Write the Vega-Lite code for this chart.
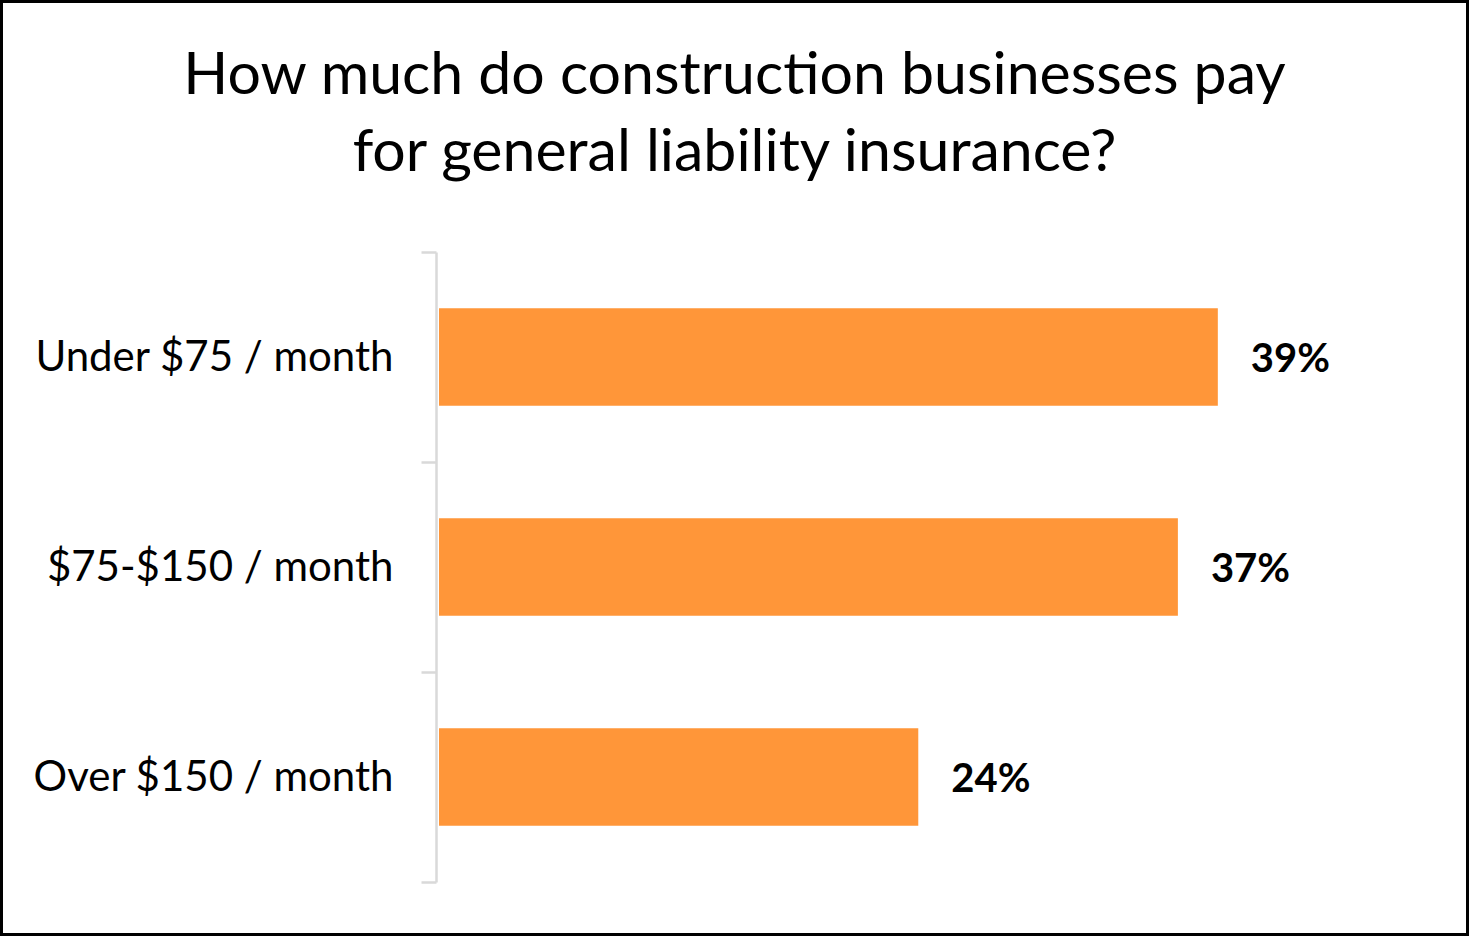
{
  "$schema": "https://vega.github.io/schema/vega-lite/v6.json",
  "width": 1469,
  "height": 936,
  "autosize": "none",
  "padding": 0,
  "background": "white",
  "config": {
    "view": {"stroke": "#000000", "strokeWidth": 6},
    "font": "Lato"
  },
  "title": {
    "text": ["How much do construction businesses pay", "for general liability insurance?"],
    "font": "Lato",
    "fontSize": 59,
    "fontWeight": "normal",
    "color": "#000000",
    "anchor": "middle",
    "baseline": "bottom",
    "lineHeight": 77,
    "offset": -263
  },
  "data": {
    "values": [
      {"category": "Under $75 / month", "share": 0.39},
      {"category": "$75-$150 / month", "share": 0.37},
      {"category": "Over $150 / month", "share": 0.24}
    ]
  },
  "encoding": {
    "y": {
      "field": "category",
      "type": "nominal",
      "sort": null,
      "scale": {"range": [252, 882], "paddingInner": 0, "paddingOuter": 0},
      "axis": {
        "title": null,
        "offset": -436,
        "tickBand": "extent",
        "tickSize": 15,
        "tickWidth": 2.5,
        "tickColor": "#D9D9D9",
        "domainColor": "#D9D9D9",
        "domainWidth": 2.5,
        "labelPadding": 28,
        "labelFont": "Lato",
        "labelFontSize": 42,
        "labelColor": "#000000",
        "labelLimit": 500
      }
    },
    "x": {
      "field": "share",
      "type": "quantitative",
      "scale": {"domain": [0, 0.5], "range": [439, 1437.5]},
      "axis": null
    }
  },
  "layer": [
    {"mark": {"type": "bar", "color": "#FF9639", "height": {"band": 0.464}}},
    {
      "mark": {"type": "text", "align": "left", "baseline": "middle", "dx": 33, "dy": 3, "fontSize": 40, "fontWeight": "bold", "font": "Lato", "color": "#000000"},
      "encoding": {"text": {"field": "share", "type": "quantitative", "format": ".0%"}}
    }
  ]
}
